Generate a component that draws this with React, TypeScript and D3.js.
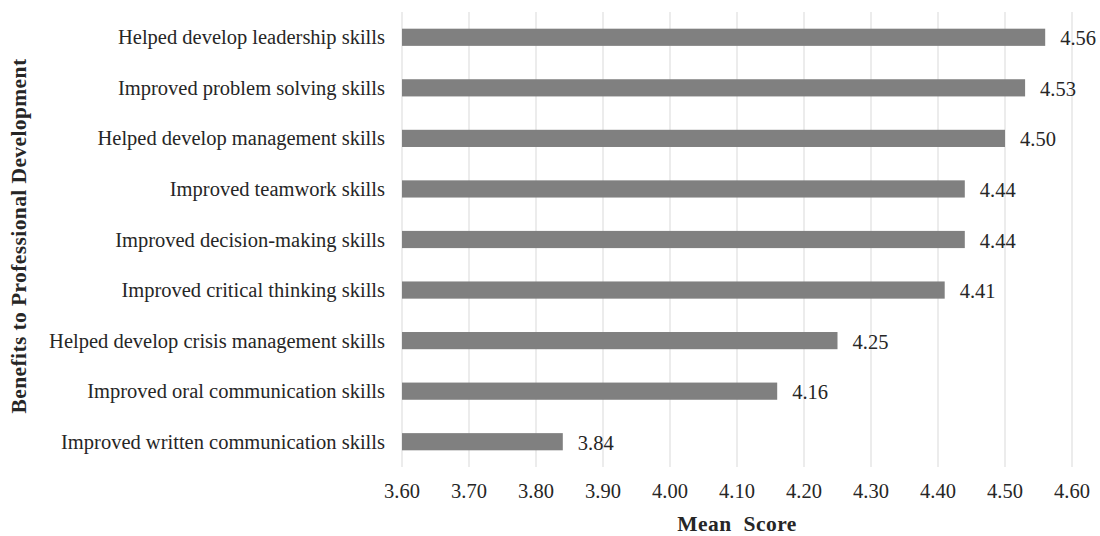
import React from "react";
import * as d3 from "d3";

const categories = [
  "Helped develop leadership skills",
  "Improved problem solving skills",
  "Helped develop management skills",
  "Improved teamwork skills",
  "Improved decision-making skills",
  "Improved critical thinking skills",
  "Helped develop crisis management skills",
  "Improved oral communication skills",
  "Improved written communication skills",
];
const values = [4.56, 4.53, 4.5, 4.44, 4.44, 4.41, 4.25, 4.16, 3.84];
const tickValues = [3.6, 3.7, 3.8, 3.9, 4.0, 4.1, 4.2, 4.3, 4.4, 4.5, 4.6];
const xTitle = "Mean\u00a0\u00a0Score";
const yTitle = "Benefits to Professional Development";

const W = 1100;
const H = 536;
const font = "'Liberation Serif', 'Times New Roman', serif";

export default function App() {
  const x = d3.scaleLinear().domain([3.6, 4.6]).range([402, 1072]);
  const y = d3.scaleBand<string>().domain(categories).range([12, 467]).paddingInner(0.66).paddingOuter(0.33);
  const bw = y.bandwidth();
  return (
    <svg width={W} height={H} style={{ position: "absolute", left: 0, top: 0, background: "#fff" }}>
      <g>
        {tickValues.map((t) => (
          <line key={t} x1={x(t)} x2={x(t)} y1={12} y2={467} stroke="#d9d9d9" strokeWidth={1} />
        ))}
      </g>
      <g>
        {categories.map((c, i) => (
          <rect key={c} x={x(3.6)} y={y(c)!} width={x(values[i]) - x(3.6)} height={bw} fill="#808080" />
        ))}
      </g>
      <g fontFamily={font} fontSize={20.5} fill="#262626">
        {categories.map((c, i) => (
          <text key={c} x={x(values[i]) + 15} y={y(c)! + bw / 2 + 1} dominantBaseline="central">
            {values[i].toFixed(2)}
          </text>
        ))}
        {categories.map((c) => (
          <text key={c} x={385} y={y(c)! + bw / 2} textAnchor="end" dominantBaseline="central">
            {c}
          </text>
        ))}
        {tickValues.map((t) => (
          <text key={t} x={x(t)} y={491} textAnchor="middle" dominantBaseline="central">
            {t.toFixed(2)}
          </text>
        ))}
      </g>
      <text x={737} y={524} textAnchor="middle" dominantBaseline="central" fontFamily={font} fontSize={21.5} fontWeight="bold" letterSpacing={0.5} fill="#262626">
        {xTitle}
      </text>
      <text
        transform={`translate(19,236) rotate(-90)`}
        textAnchor="middle"
        dominantBaseline="central"
        fontFamily={font}
        fontSize={21.5}
        fontWeight="bold"
        letterSpacing={0.4}
        fill="#262626"
      >
        {yTitle}
      </text>
    </svg>
  );
}
